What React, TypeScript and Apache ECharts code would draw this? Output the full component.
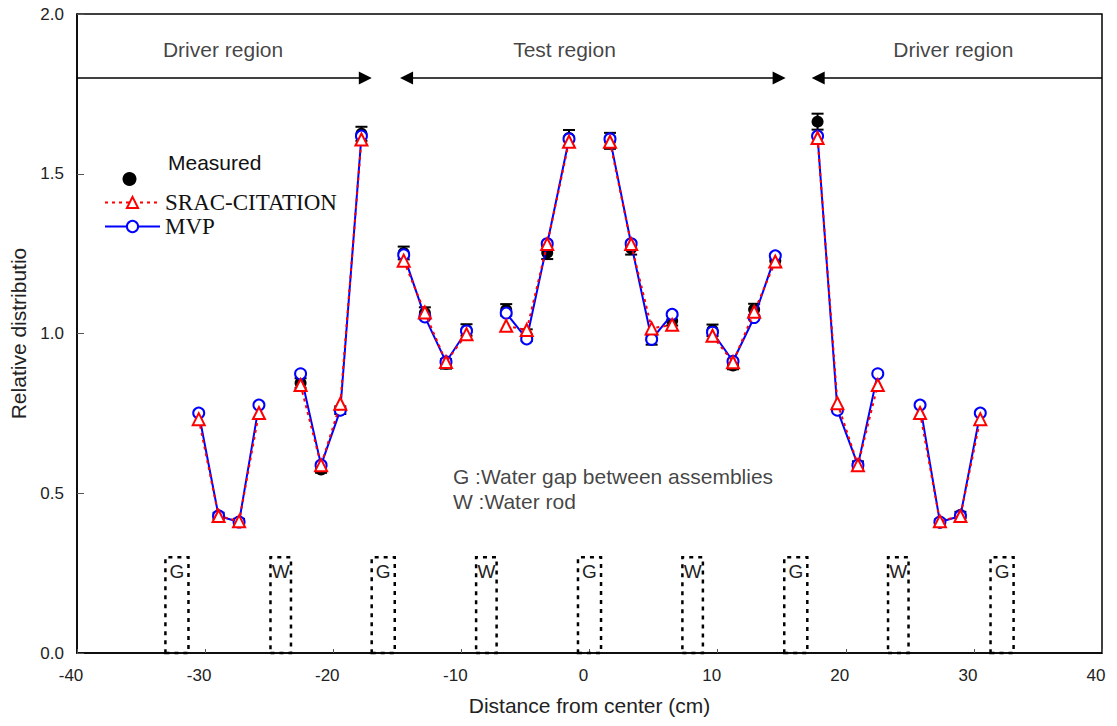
import React, { useEffect, useRef } from 'react';
import * as echarts from 'echarts';

// pin positions (cm from core center)
const positions = [
  -30.5, -28.95, -27.35, -25.8, -22.55, -20.95, -19.45, -17.8,
  -14.5, -12.85, -11.2, -9.6, -6.5, -4.9, -3.3, -1.6,
  1.6, 3.25, 4.85, 6.45, 9.6, 11.2, 12.85, 14.5,
  17.8, 19.35, 20.95, 22.5, 25.8, 27.35, 28.95, 30.5,
];
const mvpValues = [
  0.751, 0.429, 0.41, 0.776, 0.874, 0.588, 0.76, 1.618,
  1.246, 1.052, 0.911, 1.008, 1.064, 0.983, 1.281, 1.609,
  1.609, 1.281, 0.982, 1.06, 1.004, 0.913, 1.05, 1.243,
  1.618, 0.76, 0.588, 0.874, 0.776, 0.41, 0.429, 0.751,
];
const sracValues = [
  0.732, 0.429, 0.412, 0.751, 0.839, 0.588, 0.78, 1.607,
  1.228, 1.066, 0.911, 0.998, 1.024, 1.011, 1.28, 1.6,
  1.6, 1.28, 1.016, 1.027, 0.993, 0.91, 1.068, 1.225,
  1.612, 0.782, 0.588, 0.839, 0.751, 0.412, 0.429, 0.732,
];
const measuredValues = [
  null, 0.429, 0.41, null, 0.845, 0.574, 0.76, 1.625,
  1.252, 1.064, 0.905, 1.011, 1.074, 0.995, 1.253, 1.612,
  1.603, 1.267, 0.98, 1.04, 1.01, 0.9, 1.075, 1.228,
  1.663, null, 0.588, null, null, 0.408, 0.432, null,
];
const measuredErrors = [
  null, 0.01, 0.01, null, 0.015, 0.01, 0.012, 0.022,
  0.02, 0.018, 0.015, 0.018, 0.018, 0.018, 0.02, 0.025,
  0.025, 0.02, 0.015, 0.015, 0.018, 0.012, 0.018, 0.02,
  0.025, null, 0.012, null, null, 0.01, 0.01, null,
];

const gapCenters = [-32.2, -16.1, 0, 16.1, 32.2];
const rodCenters = [-24.1, -8.05, 8.05, 24.1];
const gapHalfWidth = 0.9;
const rodHalfWidth = 0.8;
const boxTop = 0.3;

const regionNames = ['Driver region', 'Test region', 'Driver region'];
const regionCenters = [-28.6, -1.95, 28.4];
const regionLabelY = 1.89;
const arrowY = 1.8;
// [start, end, startHead, endHead]
const regionArrows: [number, number, boolean, boolean][] = [
  [-40, -17.5, false, true],
  [-14.28, 14.8, true, true],
  [17.85, 40, true, false],
];

const noteLines = ['G :Water gap between assemblies', 'W :Water rod'];
const noteX = -10.7;
const noteYs = [0.551, 0.473];

const GROUP = 4;

function withBreaks(vals: number[]) {
  const out: any[] = [];
  positions.forEach((x, i) => {
    out.push([x, vals[i]]);
    if (i % GROUP === GROUP - 1 && i < positions.length - 1) out.push([x + 1.5, '-']);
  });
  return out;
}

export default function App() {
  const ref = useRef<HTMLDivElement>(null);
  useEffect(() => {
    document.body.style.margin = '0';
    const chart = echarts.init(ref.current!, null, { renderer: 'svg' });

    const measuredData: number[][] = [];
    const errorData: number[][] = [];
    positions.forEach((x, i) => {
      const v = measuredValues[i];
      if (v != null) {
        measuredData.push([x, v]);
        errorData.push([x, v, measuredErrors[i] as number]);
      }
    });

    const boxArea = (centers: number[], hw: number, name: string) =>
      centers.map((c) => [
        { xAxis: c - hw, yAxis: 0, name },
        { xAxis: c + hw, yAxis: boxTop },
      ]);

    const sans = 'Liberation Sans';
    const serif = 'Liberation Serif';

    const option: any = {
      animation: false,
      textStyle: { fontFamily: sans },
      grid: {
        left: 77, right: 15, top: 14, bottom: 73,
        show: true, borderColor: '#000', borderWidth: 1.5, backgroundColor: 'transparent',
      },
      graphic: [
        { type: 'text', left: 168, top: 152, style: { text: 'Measured', fontSize: 21, fontFamily: sans, fill: '#111' } },
      ],
      legend: [
        {
          data: ['Measured'],
          formatter: () => '',
          left: 97, top: 167, itemWidth: 55, itemHeight: 14,
        },
        {
          data: [
            { name: 'SRAC-CITATION', textStyle: { fontFamily: serif, fontSize: 23 } },
            { name: 'MVP', textStyle: { fontFamily: serif, fontSize: 23 } },
          ],
          orient: 'vertical', left: 99, top: 186, itemGap: 1, itemWidth: 55, itemHeight: 14,
          textStyle: { color: '#111' },
        },
      ],
      xAxis: {
        type: 'value', min: -40, max: 40, interval: 10,
        name: 'Distance from center (cm)', nameLocation: 'middle', nameGap: 42,
        nameTextStyle: { fontSize: 21, color: '#222', fontFamily: sans },
        axisLine: { onZero: false, lineStyle: { color: '#000', width: 1.5 } },
        axisTick: { inside: true, length: 4, lineStyle: { color: '#555' } },
        axisLabel: { fontSize: 17, color: '#222', margin: 14, padding: [0, 12, 0, 0] },
        splitLine: { show: false },
      },
      yAxis: {
        type: 'value', min: 0, max: 2, interval: 0.5,
        name: 'Relative distributio', nameLocation: 'middle', nameGap: 46,
        nameTextStyle: { fontSize: 21, color: '#222', fontFamily: sans },
        axisLine: { show: true, onZero: false, lineStyle: { color: '#000', width: 1.5 } },
        axisTick: { show: true, inside: true, length: 7, lineStyle: { color: '#555' } },
        axisLabel: { fontSize: 17, color: '#222', margin: 13, formatter: (v: number) => v.toFixed(1) },
        splitLine: { show: false },
      },
      series: [
        {
          name: 'boxes', type: 'line', data: [], silent: true,
          markArea: {
            silent: true,
            itemStyle: { color: 'rgba(0,0,0,0)', borderColor: '#000', borderWidth: 2.5, borderType: [4, 5] },
            label: { show: true, position: 'insideTop', distance: 6, fontSize: 19, color: '#222', fontFamily: sans },
            data: [...boxArea(gapCenters, gapHalfWidth, 'G'), ...boxArea(rodCenters, rodHalfWidth, 'W')],
          },
          markLine: {
            silent: true, symbolSize: 13,
            lineStyle: { color: '#000', width: 1.5, type: 'solid' },
            label: { show: false },
            data: regionArrows.map(([a, b, ha, hb]) => [
              { coord: [a, arrowY], symbol: ha ? 'triangle' : 'none' },
              { coord: [b, arrowY], symbol: hb ? 'triangle' : 'none' },
            ]),
          },
        },
        {
          name: 'regions', type: 'scatter', silent: true, symbolSize: 1,
          itemStyle: { color: 'transparent' },
          label: { show: true, position: 'inside', formatter: '{b}', fontSize: 21, color: '#111', fontFamily: sans },
          data: regionNames.map((n, i) => ({ name: n, value: [regionCenters[i], regionLabelY] })),
        },
        {
          name: 'notes', type: 'scatter', silent: true, symbolSize: 1,
          itemStyle: { color: 'transparent' },
          label: { show: true, position: 'right', distance: 0, formatter: '{b}', fontSize: 21, color: '#111', fontFamily: sans },
          data: noteLines.map((n, i) => ({ name: n, value: [noteX, noteYs[i]] })),
        },
        {
          name: 'Measured', type: 'scatter', symbol: 'circle', symbolSize: 12, z: 2,
          itemStyle: { color: '#000', opacity: 1 },
          data: measuredData,
        },
        {
          name: 'errors', type: 'custom', z: 2, silent: true,
          renderItem: (params: any, api: any) => {
            const x = api.value(0), y = api.value(1), e = api.value(2);
            const top = api.coord([x, y + e]);
            const bot = api.coord([x, y - e]);
            const w = 6;
            const style = { stroke: '#000', lineWidth: 2 };
            return {
              type: 'group',
              children: [
                { type: 'line', shape: { x1: top[0], y1: top[1], x2: bot[0], y2: bot[1] }, style },
                { type: 'line', shape: { x1: top[0] - w, y1: top[1], x2: top[0] + w, y2: top[1] }, style },
                { type: 'line', shape: { x1: bot[0] - w, y1: bot[1], x2: bot[0] + w, y2: bot[1] }, style },
              ],
            };
          },
          encode: { x: 0, y: 1 },
          data: errorData,
        },
        {
          name: 'MVP', type: 'line', z: 3,
          symbol: 'emptyCircle', symbolSize: 11,
          itemStyle: { color: '#0000ff', borderWidth: 2 },
          lineStyle: { color: '#0000ff', width: 2 },
          data: withBreaks(mvpValues),
        },
        {
          name: 'SRAC-CITATION', type: 'line', z: 4,
          symbol: 'emptyTriangle', symbolSize: 12,
          itemStyle: { color: '#ff0000', borderWidth: 2 },
          lineStyle: { color: '#ff0000', width: 2, type: [3, 4] },
          data: withBreaks(sracValues),
        },
      ],
    };
    chart.setOption(option);
    return () => chart.dispose();
  }, []);
  return <div ref={ref} style={{ width: 1117, height: 726 }} />;
}
